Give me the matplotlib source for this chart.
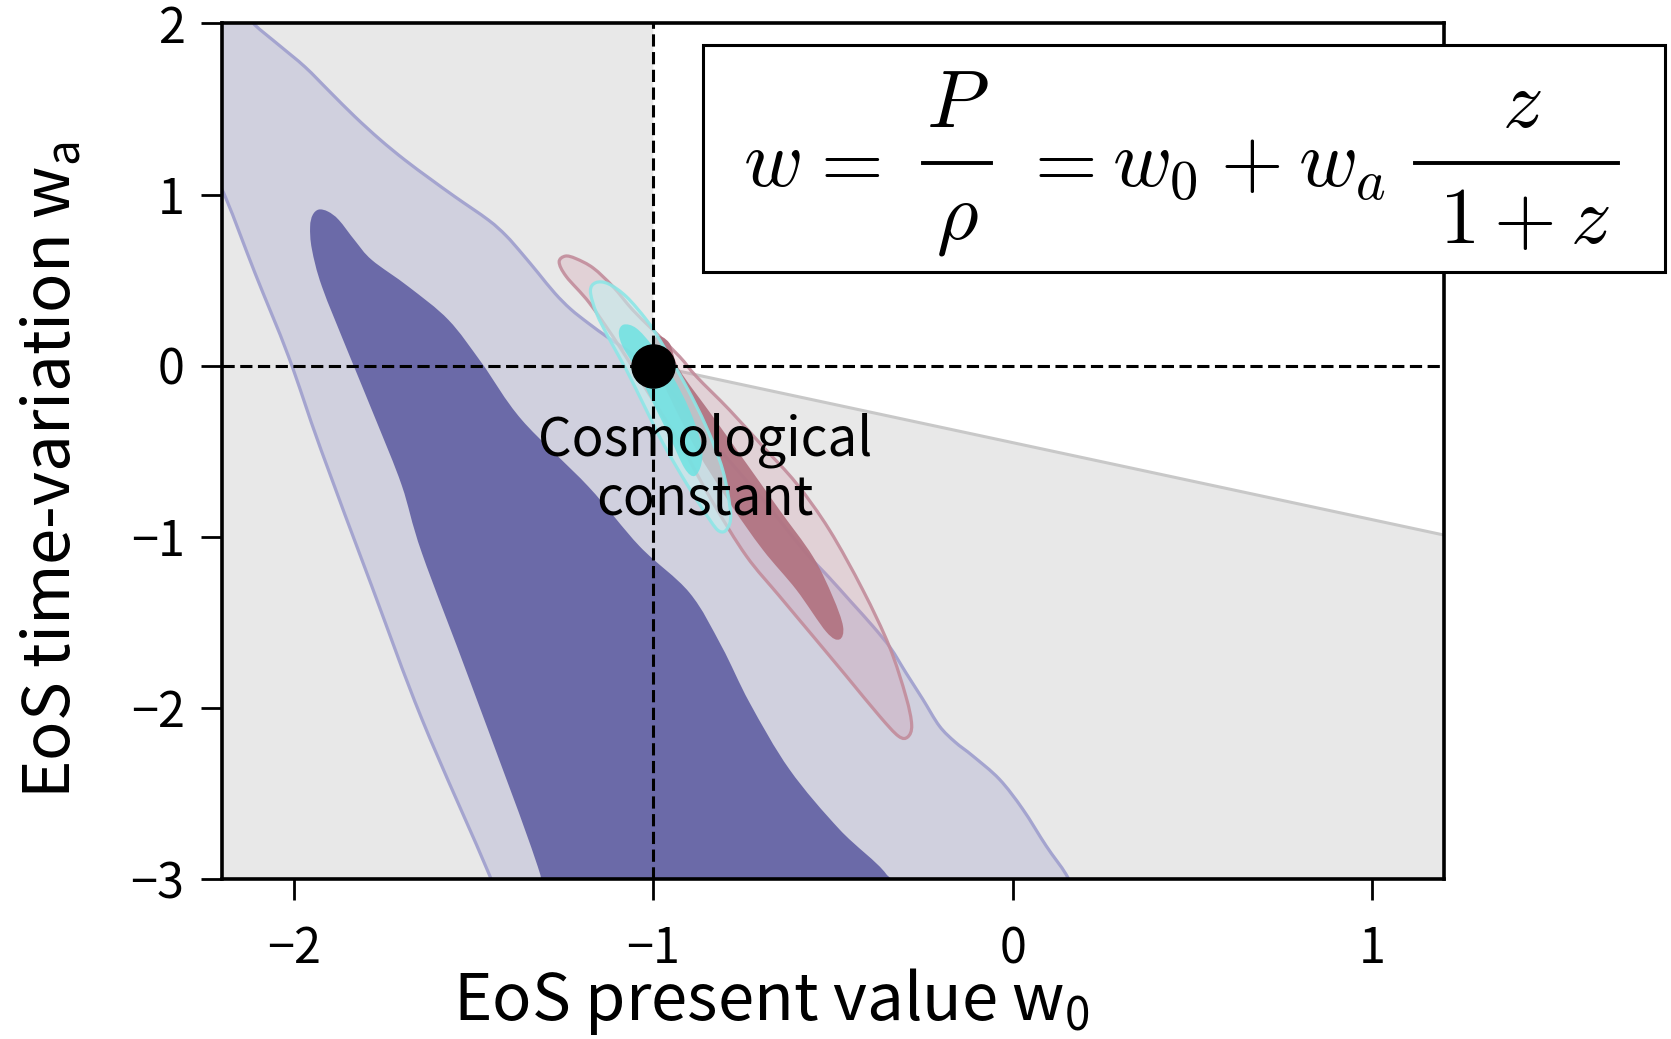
import matplotlib
matplotlib.use("Agg")
import numpy as np
import matplotlib.pyplot as plt
from matplotlib.patches import Polygon, Rectangle, PathPatch
from matplotlib.path import Path
from matplotlib.lines import Line2D

plt.rcParams['font.family'] = ['Noto Sans CJK JP', 'DejaVu Sans']
plt.rcParams['axes.unicode_minus'] = True

# *
# Contour outlines in the (w0, wa) plane
# *
# broad constraint, 2 sigma (clockwise from the top-left corner)
blue2_w0 = [-2.32, -2.13, -2.108, -2.04, -1.969, -1.90, -1.830, -1.76, -1.691, -1.62, -1.552,
            -1.459, -1.41, -1.366, -1.32, -1.274, -1.23, -1.181, -1.13, -1.088, -1.045, -1.005,
            -0.95, -0.90, -0.85, -0.807, -0.75, -0.70, -0.65, -0.575, -0.51, -0.45, -0.389,
            -0.34, -0.297, -0.25, -0.204, -0.16, -0.111, -0.037, 0.028, 0.093, 0.148, 0.17,
            0.20, -1.46, -1.445, -1.459, -1.644, -1.783, -1.925, -2.015, -2.108, -2.191, -2.27]
blue2_wa = [2.25, 2.05, 1.989, 1.87, 1.745, 1.60, 1.454, 1.32, 1.201, 1.09, 0.987,
            0.851, 0.76, 0.656, 0.54, 0.423, 0.33, 0.248, 0.17, 0.111, 0.05, -0.006,
            -0.15, -0.28, -0.41, -0.511, -0.65, -0.77, -0.90, -1.095, -1.24, -1.38, -1.523,
            -1.65, -1.795, -1.95, -2.106, -2.20, -2.281, -2.417, -2.592, -2.806, -2.971, -3.08,
            -3.30, -3.30, -3.08, -2.962, -2.065, -1.291, -0.49, 0.053, 0.539, 0.987, 1.35]

# broad constraint, 1 sigma
blue1_w0 = [-1.931, -1.905, -1.875, -1.83, -1.783, -1.681, -1.570, -1.477, -1.366, -1.181,
            -1.038, -0.899, -0.810, -0.732, -0.621, -0.482, -0.352, -0.33,
            -1.32, -1.315, -1.505, -1.644, -1.70, -1.772, -1.848, -1.922, -1.95, -1.955, -1.948]
blue1_wa = [0.912, 0.900, 0.851, 0.73, 0.617, 0.461, 0.267, 0.014, -0.317, -0.706,
            -1.056, -1.328, -1.640, -1.970, -2.360, -2.710, -2.971, -3.15,
            -3.15, -2.971, -1.873, -1.095, -0.70, -0.317, 0.072, 0.461, 0.68, 0.811, 0.88]

# second probe, 2 sigma
red2_w0 = [-1.245, -1.215, -1.167, -1.112, -1.057, -1.001, -0.927, -0.880, -0.788, -0.695,
           -0.602, -0.510, -0.417, -0.343, -0.297, -0.281, -0.292, -0.318, -0.371, -0.463,
           -0.556, -0.649, -0.741, -0.834, -0.927, -1.019, -1.094, -1.177, -1.242, -1.262]
red2_wa = [0.640, 0.625, 0.570, 0.461, 0.325, 0.208, 0.053, -0.064, -0.259, -0.473,
           -0.688, -0.960, -1.311, -1.642, -1.934, -2.100, -2.170, -2.165, -2.047, -1.814,
           -1.580, -1.347, -1.113, -0.801, -0.451, -0.142, 0.111, 0.364, 0.520, 0.605]

# second probe, 1 sigma
red1_w0 = [-0.992, -0.955, -0.927, -0.834, -0.741, -0.649, -0.556, -0.501, -0.472, -0.482,
           -0.519, -0.602, -0.695, -0.788, -0.880, -0.955, -1.003]
red1_wa = [0.169, 0.131, -0.025, -0.298, -0.571, -0.843, -1.115, -1.349, -1.524, -1.600,
           -1.555, -1.310, -1.077, -0.801, -0.492, -0.181, 0.053]

# combined forecast, 2 sigma
cyan2_w0 = [-1.160, -1.125, -1.075, -1.019, -0.982, -0.908, -0.853, -0.807, -0.785, -0.795,
            -0.816, -0.843, -0.908, -0.973, -1.029, -1.075, -1.121, -1.158, -1.175]
cyan2_wa = [0.485, 0.478, 0.403, 0.267, 0.150, -0.123, -0.356, -0.609, -0.862, -0.955,
            -0.968, -0.901, -0.688, -0.454, -0.219, -0.025, 0.150, 0.306, 0.435]

# combined forecast, 1 sigma
cyan1_w0 = [-1.082, -1.047, -1.001, -0.946, -0.899, -0.867, -0.866, -0.885, -0.913, -0.955,
            -1.001, -1.047, -1.085, -1.096]
cyan1_wa = [0.240, 0.218, 0.111, -0.064, -0.259, -0.453, -0.571, -0.645, -0.600, -0.414,
            -0.219, -0.025, 0.111, 0.195]

# excluded corner: w0 > -1 above this edge stays white
edge_w0 = [-1.0, 1.2]
edge_wa = [0.0, -0.99]

lcdm_w0, lcdm_wa = -1.0, 0.0

xticks = [-2, -1, 0, 1]
yticks = [-3, -2, -1, 0, 1, 2]


def smooth_outline(w0, wa):
    # closed Catmull-Rom curve through the outline points, as cubic Bezier segments
    p = np.column_stack([w0, wa])
    n = len(p)
    verts = [p[0]]
    codes = [Path.MOVETO]
    for i in range(n):
        p0, p1, p2, p3 = p[i - 1], p[i], p[(i + 1) % n], p[(i + 2) % n]
        verts += [p1 + (p2 - p0) / 6.0, p2 - (p3 - p1) / 6.0, p2]
        codes += [Path.CURVE4] * 3
    verts.append(p[0])
    codes.append(Path.CLOSEPOLY)
    return Path(verts, codes)


def contour(w0, wa, fc, alpha=1.0, ec=None, ec_alpha=1.0, z=1):
    path = smooth_outline(w0, wa)
    ax.add_patch(PathPatch(path, fc=fc, ec='none', alpha=alpha, zorder=z))
    if ec is not None:
        ax.add_patch(PathPatch(path, fc='none', ec=ec, lw=2.3, alpha=ec_alpha,
                               joinstyle='round', zorder=z + 0.05))


fig = plt.figure(figsize=(16.71, 10.39), dpi=100)
ax = fig.add_axes([0.1329, 0.154, 0.7312, 0.8235])
ax.set_xlim(-2.2, 1.2)
ax.set_ylim(-3, 2)

# grey background everywhere except the allowed corner
grey_w0 = [-2.2, lcdm_w0, edge_w0[0], edge_w0[1], 1.2, -2.2]
grey_wa = [2.0, 2.0, edge_wa[0], edge_wa[1], -3.0, -3.0]
ax.add_patch(Polygon(list(zip(grey_w0, grey_wa)), closed=True, fc='#e8e8e8', ec='none', zorder=0.5))
ax.plot(edge_w0, edge_wa, color='#c8c8c8', lw=2.2, zorder=0.6)

contour(blue2_w0, blue2_wa, '#d0d0de', z=1)
contour(blue1_w0, blue1_wa, '#6b6aa8', z=1.2)
# blue outline sits under the translucent probes
ax.add_patch(PathPatch(smooth_outline(blue2_w0, blue2_wa), fc='none', ec='#a4a4cf',
                       lw=2.3, zorder=1.3))

contour(red2_w0, red2_wa, '#cf8fa3', alpha=0.25, ec='#c28c9b', ec_alpha=0.9, z=2)
contour(red1_w0, red1_wa, '#b27482', alpha=0.95, z=2.2)

contour(cyan2_w0, cyan2_wa, '#c6f0f0', alpha=0.6, ec='#8de6e6', ec_alpha=0.9, z=3)
contour(cyan1_w0, cyan1_wa, '#6ee2e2', alpha=0.85, z=3.2)

# cosmological constant point and guides
ax.axvline(lcdm_w0, color='black', lw=2.2, dashes=(4, 1.8), zorder=4)
ax.axhline(lcdm_wa, color='black', lw=2.2, dashes=(4, 1.8), zorder=4)
ax.plot([lcdm_w0], [lcdm_wa], 'o', color='black', ms=31, zorder=5)

ax.text(-0.855, -0.609, 'Cosmological\nconstant', fontsize=38, ha='center', va='center',
        linespacing=1.1, zorder=6)

# parametrisation box, laid out piece by piece in figure pixels
W, H = 1671.0, 1039.0


def fpos(X, Y):
    return X / W, 1.0 - Y / H


ax.add_patch(Rectangle((0.3936, 0.7094), 0.7873, 0.2654, transform=ax.transAxes,
                       fc='white', ec='black', lw=2.2, clip_on=False, zorder=7))

base = 186
bar = 163
eq_kw = dict(fontsize=58, math_fontfamily='cm', zorder=8)
# a lone relation symbol gets its spacing on the left, hence the smaller x
pieces = [
    (743, base, r'$w$', 'left'),
    (806, base, r'$=$', 'left'),
    (957, 127, r'$P$', 'center'),
    (957, 239, r'$\rho$', 'center'),
    (1020, base, r'$=$', 'left'),
    (1112, base, r'$w_0$', 'left'),
    (1220, base, r'$+$', 'left'),
    (1298, base, r'$w_a$', 'left'),
    (1522, 127, r'$z$', 'center'),
    (1524, 243, r'$1+z$', 'center'),
]
for X, Y, s, ha in pieces:
    fig.text(*fpos(X, Y), s, ha=ha, va='baseline', **eq_kw)
for x0, x1 in [(923, 991), (1415, 1618)]:
    (fx0, fy), (fx1, _) = fpos(x0, bar), fpos(x1, bar)
    fig.add_artist(Line2D([fx0, fx1], [fy, fy], transform=fig.transFigure,
                          color='black', lw=2.8, zorder=8))

ax.set_xticks(xticks)
ax.set_yticks(yticks)
ax.tick_params(direction='out', length=15, width=2, labelsize=35)
ax.tick_params(axis='x', pad=18)
ax.tick_params(axis='y', pad=12)
for s in ax.spines.values():
    s.set_linewidth(2.6)

ax.set_xlabel(r'EoS present value w$_{\mathregular{0}}$', fontsize=47)
ax.set_ylabel(r'EoS time-variation w$_{\mathregular{a}}$', fontsize=47)
ax.xaxis.set_label_coords(0.450, -0.102)
ax.yaxis.set_label_coords(-0.112, 0.478)

fig.savefig('out.png', dpi=100)
